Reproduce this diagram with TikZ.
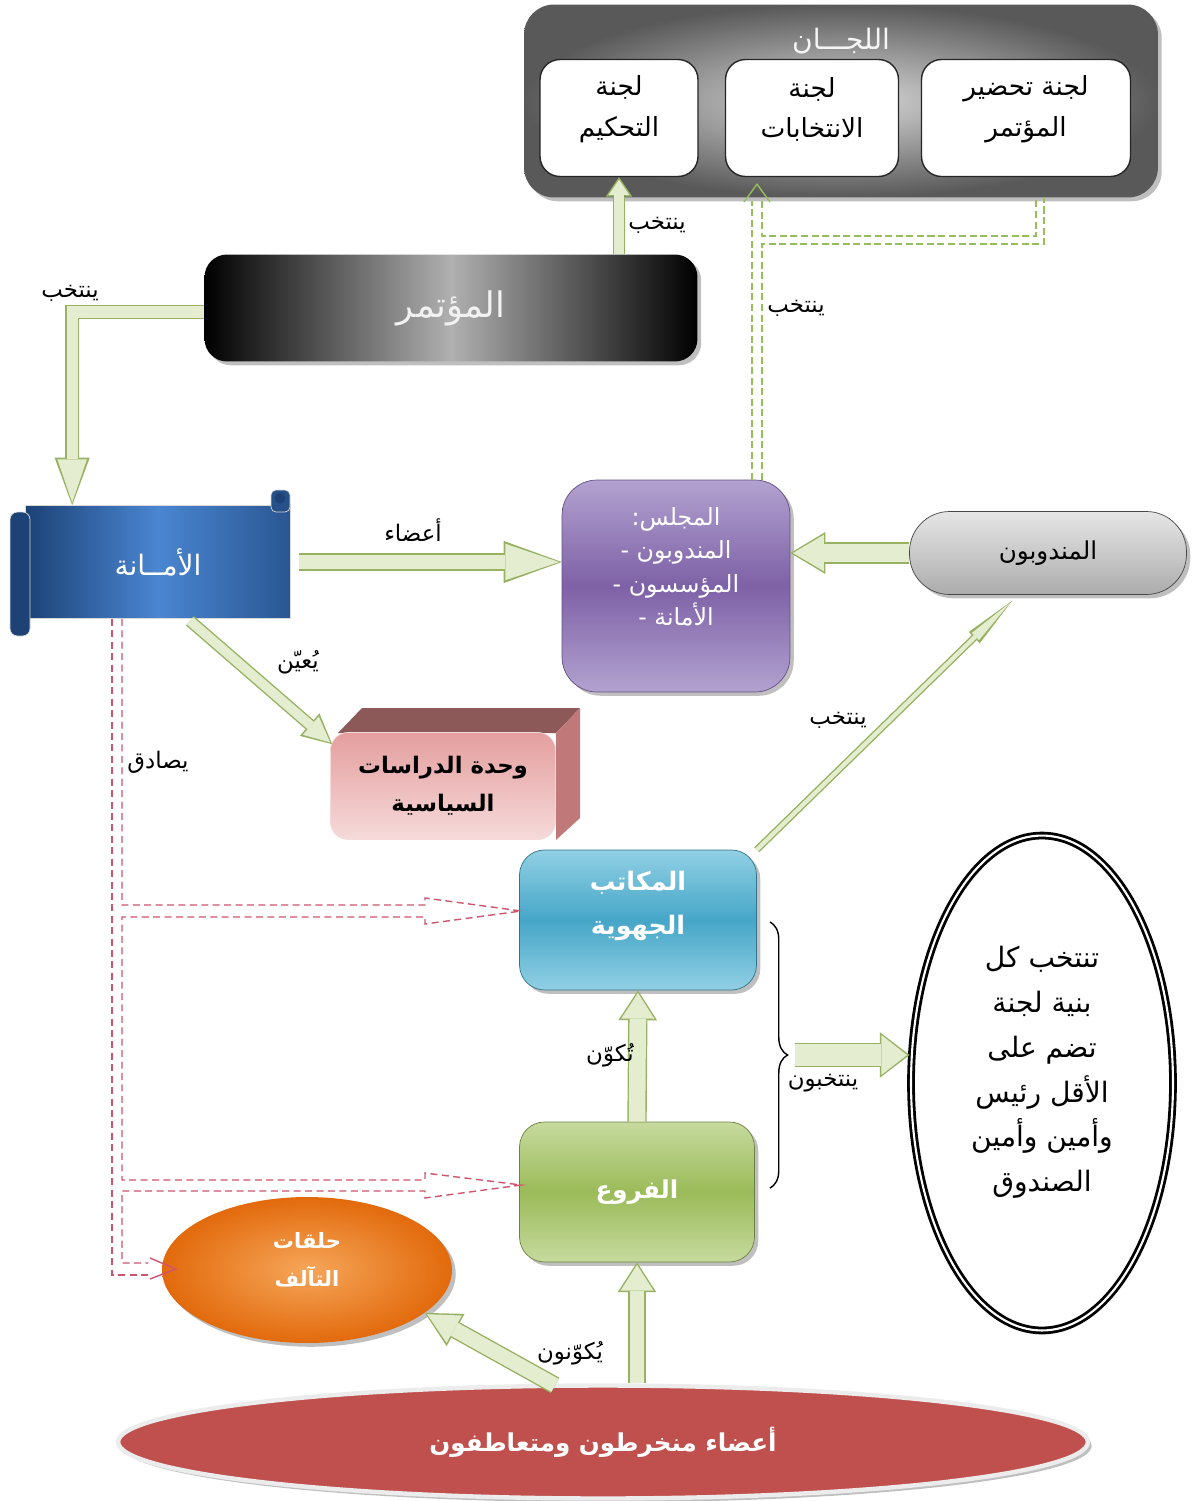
\documentclass[tikz,border=0pt]{standalone}
\usepackage{fontspec}
\usetikzlibrary{arrows.meta,shapes.geometric,shadows,decorations.pathreplacing,calc}

\newfontfamily\arabicfont[Script=Arabic]{DejaVu Sans}
\TeXXeTstate=1

\definecolor{arrowfill}{RGB}{228,237,207}
\definecolor{arrowedge}{RGB}{150,178,98}
\definecolor{dashgreen}{RGB}{150,190,90}
\definecolor{dashred}{RGB}{205,85,110}
\definecolor{amanablue}{RGB}{74,134,210}
\definecolor{amanadark}{RGB}{28,66,118}
\definecolor{majlispurple}{RGB}{126,97,166}
\definecolor{majlislight}{RGB}{178,162,208}
\definecolor{maktabblue}{RGB}{70,166,200}
\definecolor{maktablight}{RGB}{145,208,228}
\definecolor{furugreen}{RGB}{155,187,89}
\definecolor{furulight}{RGB}{198,218,158}
\definecolor{wahdapink}{RGB}{228,158,158}
\definecolor{wahdalight}{RGB}{246,218,218}
\definecolor{wahdatop}{RGB}{140,88,88}
\definecolor{wahdaside}{RGB}{192,120,120}
\definecolor{hilaqorange}{RGB}{226,106,12}
\definecolor{hilaqlight}{RGB}{246,166,90}
\definecolor{basered}{RGB}{192,80,77}

% block arrow: shaft, head width, head length (pt), path
\newcommand{\garrow}[4]{%
  \pgfmathsetmacro{\gin}{#1-1.6}%
  \pgfmathsetmacro{\gw}{#2-3.2}%
  \pgfmathsetmacro{\gl}{#3-2.4}%
  \draw[arrowedge, line width=#1pt, -{Triangle[width=#2pt,length=#3pt,line width=0pt]}] #4;
  \draw[arrowfill, line width=\gin pt, shorten >=1.5pt, -{Triangle[width=\gw pt,length=\gl pt,line width=0pt]}] #4;
}

\tikzset{
  lbl/.style={font=\arabicfont\fontsize{13}{15}\selectfont, inner sep=1pt},
  panel/.style={rounded corners=0.4cm, draw=gray!30!black, line width=0.8pt, fill=white,
    minimum height=2.34cm, inner sep=0pt},
  paneltext/.style={align=center, yshift=5pt, font=\arabicfont\fontsize{15}{23}\selectfont},
  roundbox/.style={rounded corners=0.5cm, inner sep=0pt, align=center, drop shadow},
  dashg/.style={dashgreen, line width=0.8pt, dash pattern=on 4pt off 2pt},
  dashr/.style={dashred, line width=0.8pt, dash pattern=on 4pt off 2.5pt},
}

\begin{document}
\begin{tikzpicture}[x=0.02cm,y=-0.02cm]
  \useasboundingbox (0,0) rectangle (1195,1501);

  % committees
  \node[rounded corners=0.6cm, minimum width=12.68cm, minimum height=3.86cm,
    inner color=gray!30, outer color=gray!70!black, drop shadow,
    label={[yshift=34pt, text=gray!8, font=\arabicfont\fontsize{16}{18}\selectfont]center:{\beginR اللجـــان\endR}}]
    (lijan) at (841,101) {};
  \node[panel, minimum width=3.16cm, label={[paneltext]center:{\beginR لجنة\endR\\\beginR التحكيم\endR}}] (tahkim) at (619,118) {};
  \node[panel, minimum width=3.46cm, label={[paneltext]center:{\beginR لجنة\endR\\\beginR الانتخابات\endR}}] (intikhab) at (812,118) {};
  \node[panel, minimum width=4.18cm, label={[paneltext]center:{\beginR لجنة تحضير\endR\\\beginR المؤتمر\endR}}] (tahdir) at (1026,118) {};

  % congress
  \node[roundbox, rounded corners=0.45cm, minimum width=9.86cm, minimum height=2.14cm,
    left color=black, right color=black, middle color=gray!62, text=gray!10,
    font=\arabicfont\fontsize{20}{24}\selectfont] (mutamar) at (451,308) {\beginR المؤتمر\endR};

  % secretariat scroll
  \node[minimum width=5.3cm, minimum height=2.26cm, left color=amanadark, right color=amanadark!70!amanablue,
    middle color=amanablue, draw=gray!30, text=white,
    font=\arabicfont\fontsize{16}{18}\selectfont] (amana) at (158,562) {\beginR الأمــانة\endR};
  \filldraw[fill=amanadark, draw=gray!30, rounded corners=0.15cm] (10,512) rectangle (30,636);
  \filldraw[fill=amanadark!80!amanablue, draw=gray!30, rounded corners=0.1cm] (271,490) rectangle (290,512);
  \fill[amanadark] (280,498) circle (3pt);

  % council
  \node[roundbox, rounded corners=0.7cm, minimum width=4.56cm, minimum height=4.24cm,
    top color=majlislight, bottom color=majlislight, middle color=majlispurple,
    draw=majlispurple!80!black,
    label={[yshift=11pt, align=center, text=white, font=\arabicfont\fontsize{13.5}{19}\selectfont]center:{\beginR المجلس:\endR\\\beginR المندوبون -\endR\\\beginR المؤسسون -\endR\\\beginR الأمانة -\endR}}]
    (majlis) at (676,586) {};

  % delegates
  \node[roundbox, rounded corners=0.8cm, minimum width=5.54cm, minimum height=1.66cm,
    top color=gray!20, bottom color=gray!65, draw=gray!55!black,
    font=\arabicfont\fontsize{14}{16}\selectfont] (mandubun) at (1048,553) {\beginR المندوبون\endR};

  % political studies unit
  \fill[wahdatop] (338,733) -- (362,708) -- (580,708) -- (556,733) -- cycle;
  \fill[wahdaside] (556,733) -- (580,708) -- (580,818) -- (556,840) -- cycle;
  \node[rounded corners=0.35cm, minimum width=4.5cm, minimum height=2.14cm, inner sep=0pt,
    top color=wahdapink, bottom color=wahdalight, draw=wahdalight, align=center,
    font=\arabicfont\bfseries\fontsize{13}{21.5}\selectfont] (wahda) at (443,786)
    {\beginR وحدة الدراسات\endR\\\beginR السياسية\endR};

  % regional offices and branches
  \node[roundbox, minimum width=4.74cm, minimum height=2.8cm,
    top color=maktablight, bottom color=maktablight, middle color=maktabblue,
    draw=maktabblue!70!black,
    label={[yshift=8pt, align=center, text=white, font=\arabicfont\bfseries\fontsize{14.5}{25}\selectfont]center:{\beginR المكاتب\endR\\\beginR الجهوية\endR}}]
    (maktab) at (638,920) {};
  \node[roundbox, minimum width=4.7cm, minimum height=2.8cm,
    top color=furulight, bottom color=furulight, middle color=furugreen,
    draw=furugreen!70!black, text=white,
    font=\arabicfont\bfseries\fontsize{14}{17}\selectfont] (furu) at (637,1192) {\beginR الفروع\endR};

  % committee of each structure
  \node[ellipse, minimum width=5.24cm, minimum height=9.9cm, inner sep=0pt,
    draw=black, double=white, double distance=1.2pt, line width=1.6pt,
    label={[yshift=6pt, align=center, font=\arabicfont\fontsize{16}{25.5}\selectfont]center:{\beginR تنتخب كل\endR\\\beginR بنية لجنة\endR\\\beginR تضم على\endR\\\beginR الأقل رئيس\endR\\\beginR وأمين وأمين\endR\\\beginR الصندوق\endR}}]
    (lajna) at (1042,1083) {};

  % circles and members
  \node[ellipse, minimum width=5.8cm, minimum height=2.92cm, inner sep=0pt,
    inner color=hilaqlight, outer color=hilaqorange, drop shadow,
    label={[yshift=6pt, align=center, text=white, font=\arabicfont\bfseries\fontsize{12}{21.5}\selectfont]center:{\beginR حلقات\endR\\\beginR التآلف\endR}}]
    (hilaq) at (307,1270) {};
  \node[ellipse, minimum width=19.4cm, minimum height=2.26cm, inner sep=0pt,
    fill=basered, draw=gray!15, line width=2.5pt, drop shadow, text=white,
    font=\arabicfont\bfseries\fontsize{14}{16}\selectfont] (base) at (603,1442)
    {\beginR أعضاء منخرطون ومتعاطفون\endR};

  % block arrows
  \garrow{7}{15}{11}{(mutamar.north -| tahkim.south) -- (tahkim.south)}
  \garrow{8}{20}{27}{($(mutamar.west)+(0,4)$) -| ($(amana.north west)+(47,0)$)}
  \garrow{10}{24}{33}{($(amana.east)+(8,0)$) -- (amana.east -| majlis.west)}
  \garrow{12}{24}{20}{(mandubun.west) -- (mandubun.west -| majlis.east)}
  \garrow{4}{9}{30}{(maktab.north east) -- ($(mandubun.south)+(-36,6)$)}
  \garrow{7}{17}{17}{($(amana.south)+(32,2)$) -- ($(wahda.north west)+(2,12)$)}
  \garrow{11}{22}{17}{(furu.north) -- (maktab.south)}
  \garrow{10}{22}{17}{(base.north -| furu.south) -- (furu.south)}
  \garrow{10}{21}{20}{($(base.north)+(-48,2)$) -- (hilaq.-20)}

  % brace
  \draw[decorate, decoration={brace, amplitude=10pt}, line width=0.8pt] (770,922) -- (770,1188);
  \coordinate (bracetip) at (795,1055);
  \garrow{14}{26}{17}{(bracetip) -- (bracetip -| lajna.west)}

  % green dashed: elections committee
  \draw[dashg] ($(majlis.north)+(76,0)$) -- ($(intikhab.south)+(-60,24)$);
  \draw[dashg] ($(majlis.north)+(86,0)$) -- (762,244) -- (1044,244) -- ($(tahdir.south)+(18,20)$);
  \draw[dashg] ($(intikhab.south)+(-50,24)$) -- (762,236) -- (1036,236) -- ($(tahdir.south)+(10,20)$);
  \draw[dashgreen, line width=0.8pt] (744,202) -- ($(intikhab.south)+(-55,7)$) -- (770,202);

  % red dashed: approval
  \draw[dashr] ($(amana.south)+(-46,0)$) -- (112,1275) -- (148,1275);
  \draw[dashr] ($(amana.south)+(-36,0)$) -- (122,905) -- (425,905) -- (425,898)
    -- ($(maktab.west)+(2,-9)$) -- (425,924) -- (425,917) -- (122,917)
    -- (122,1180) -- (425,1180) -- (425,1173) -- ($(furu.west)+(2,-7)$)
    -- (425,1198) -- (425,1191) -- (122,1191) -- (122,1263) -- (148,1263);
  \draw[dashred, line width=0.8pt] (150,1258) -- ($(hilaq.west)+(14,-1)$) -- (150,1279);

  % connector labels
  \foreach \x/\y/\t [count=\i] in {657/225/ينتخب, 70/293/ينتخب, 796/308/ينتخب,
      838/720/ينتخب, 413/530/أعضاء, 298/662/يُعيّن, 158/762/يصادق,
      610/1055/تُكوّن, 823/1083/ينتخبون, 570/1353/يُكوّنون} {
    \node[lbl] (lbl\i) at (\x,\y) {\beginR\t\endR};
  }
\end{tikzpicture}
\end{document}
